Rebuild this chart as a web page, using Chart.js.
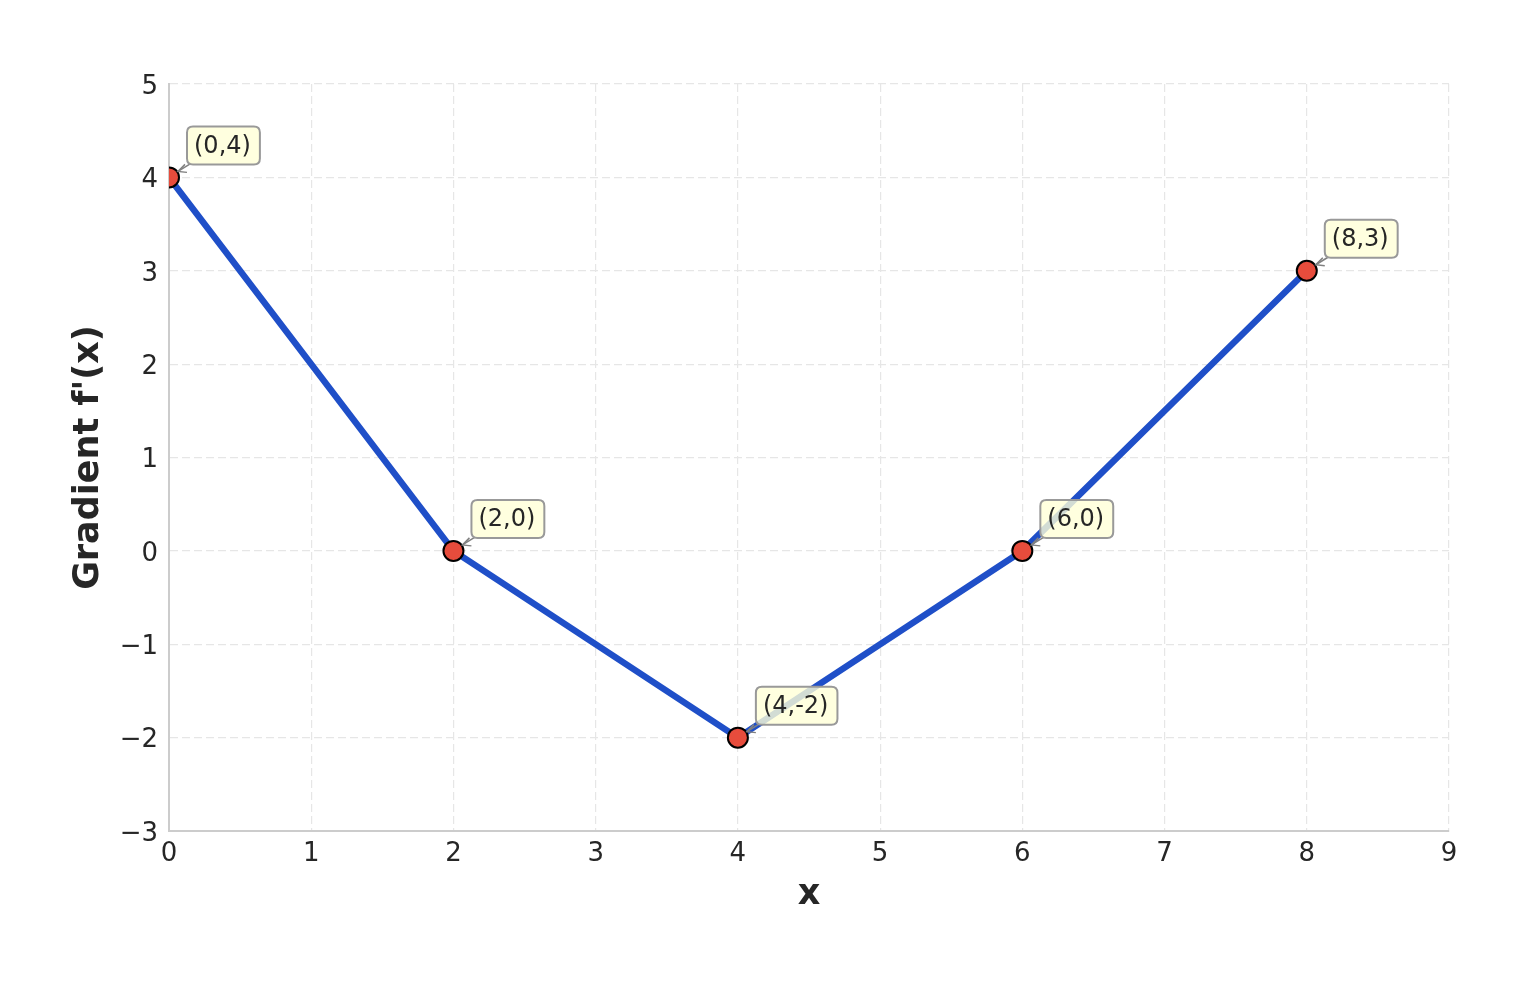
<!DOCTYPE html>
<html>
<head>
<meta charset="utf-8">
<script src="https://cdn.jsdelivr.net/npm/chart.js@4/dist/chart.umd.min.js"></script>
<style>
  body { margin: 0; background: #fff; }
  canvas { display: block; }
</style>
</head>
<body>
<canvas id="chart" width="1530" height="985" style="width:1530px;height:985px"></canvas>
<script>
// points of the gradient curve
var xValues = [0, 2, 4, 6, 8];
var yValues = [4, 0, -2, 0, 3];
var pointLabels = ["(0,4)", "(2,0)", "(4,-2)", "(6,0)", "(8,3)"];

var xTicks = [0, 1, 2, 3, 4, 5, 6, 7, 8, 9];
var yTicks = [-3, -2, -1, 0, 1, 2, 3, 4, 5];

var textColor = "#262626";
var tickFont = { family: "DejaVu Sans", size: 26 };
var titleFont = { family: "DejaVu Sans", size: 35, weight: "bold" };

var pts = [];
for (var i = 0; i < xValues.length; i++) {
  pts.push({ x: xValues[i], y: yValues[i] });
}

function minus(v) {
  return String(v).replace("-", "\u2212");
}

function roundRect(ctx, x, y, w, h, r) {
  ctx.beginPath();
  ctx.moveTo(x + r, y);
  ctx.lineTo(x + w - r, y);
  ctx.quadraticCurveTo(x + w, y, x + w, y + r);
  ctx.lineTo(x + w, y + h - r);
  ctx.quadraticCurveTo(x + w, y + h, x + w - r, y + h);
  ctx.lineTo(x + r, y + h);
  ctx.quadraticCurveTo(x, y + h, x, y + h - r);
  ctx.lineTo(x, y + r);
  ctx.quadraticCurveTo(x, y, x + r, y);
  ctx.closePath();
}

// boxed labels next to each point, with a small arrow back to it
var labelBoxes = {
  id: "labelBoxes",
  afterDatasetsDraw: function(chart) {
    var ctx = chart.ctx;
    var xs = chart.scales.x, ys = chart.scales.y;
    ctx.save();
    ctx.font = "24px 'DejaVu Sans'";
    ctx.textBaseline = "middle";
    for (var i = 0; i < xValues.length; i++) {
      var px = xs.getPixelForValue(xValues[i]);
      var py = ys.getPixelForValue(yValues[i]);
      var tx = px + 25, ty = py - 32;
      var w = ctx.measureText(pointLabels[i]).width;

      // arrow
      ctx.strokeStyle = "#808080";
      ctx.lineWidth = 1.5;
      ctx.beginPath();
      ctx.moveTo(px + 22, py - 14);
      ctx.lineTo(px + 9, py - 6);
      ctx.stroke();
      ctx.beginPath();
      ctx.moveTo(px + 16, py - 13);
      ctx.lineTo(px + 9, py - 6);
      ctx.lineTo(px + 18, py - 5);
      ctx.stroke();

      // box
      roundRect(ctx, tx - 7, ty - 19, w + 16, 38, 6);
      ctx.fillStyle = "rgba(255, 255, 215, 0.8)";
      ctx.fill();
      ctx.strokeStyle = "#999999";
      ctx.lineWidth = 2;
      ctx.stroke();

      ctx.fillStyle = textColor;
      ctx.fillText(pointLabels[i], tx, ty + 1);
    }
    ctx.restore();
  }
};

new Chart(document.getElementById("chart"), {
  type: "scatter",
  data: {
    datasets: [{
      data: pts,
      showLine: true,
      borderColor: "#1f4fc8",
      borderWidth: 6.5,
      pointRadius: 10,
      pointHoverRadius: 10,
      pointBackgroundColor: "#e74c3c",
      pointBorderColor: "#000000",
      pointBorderWidth: 2
    }]
  },
  options: {
    responsive: false,
    animation: false,
    devicePixelRatio: 1,
    layout: { padding: { top: 84, right: 81, left: 0, bottom: 0 } },
    plugins: { legend: { display: false }, tooltip: { enabled: false } },
    scales: {
      x: {
        type: "linear",
        min: 0, max: 9,
        afterFit: function(s) { s.height = 154; },
        afterBuildTicks: function(s) { s.ticks = xTicks.map(function(v) { return { value: v }; }); },
        ticks: { color: textColor, font: tickFont, padding: 8, maxRotation: 0, callback: minus },
        grid: { color: "#e6e6e6", lineWidth: 1.2, drawTicks: false },
        border: { color: "#cccccc", width: 2, dash: [8, 4] },
        title: { display: true, text: "x", color: textColor, font: titleFont, padding: { top: 0, bottom: 69 } }
      },
      y: {
        type: "linear",
        min: -3, max: 5,
        afterFit: function(s) { s.width = 169; },
        afterBuildTicks: function(s) { s.ticks = yTicks.map(function(v) { return { value: v }; }); },
        ticks: { color: textColor, font: tickFont, padding: 11, labelOffset: 3, callback: minus },
        grid: { color: "#e6e6e6", lineWidth: 1.2, drawTicks: false },
        border: { color: "#cccccc", width: 2, dash: [8, 4] },
        title: { display: true, text: "Gradient f'(x)", color: textColor, font: titleFont, padding: { top: 68, bottom: 0 } }
      }
    }
  },
  plugins: [labelBoxes]
});
</script>
</body>
</html>
